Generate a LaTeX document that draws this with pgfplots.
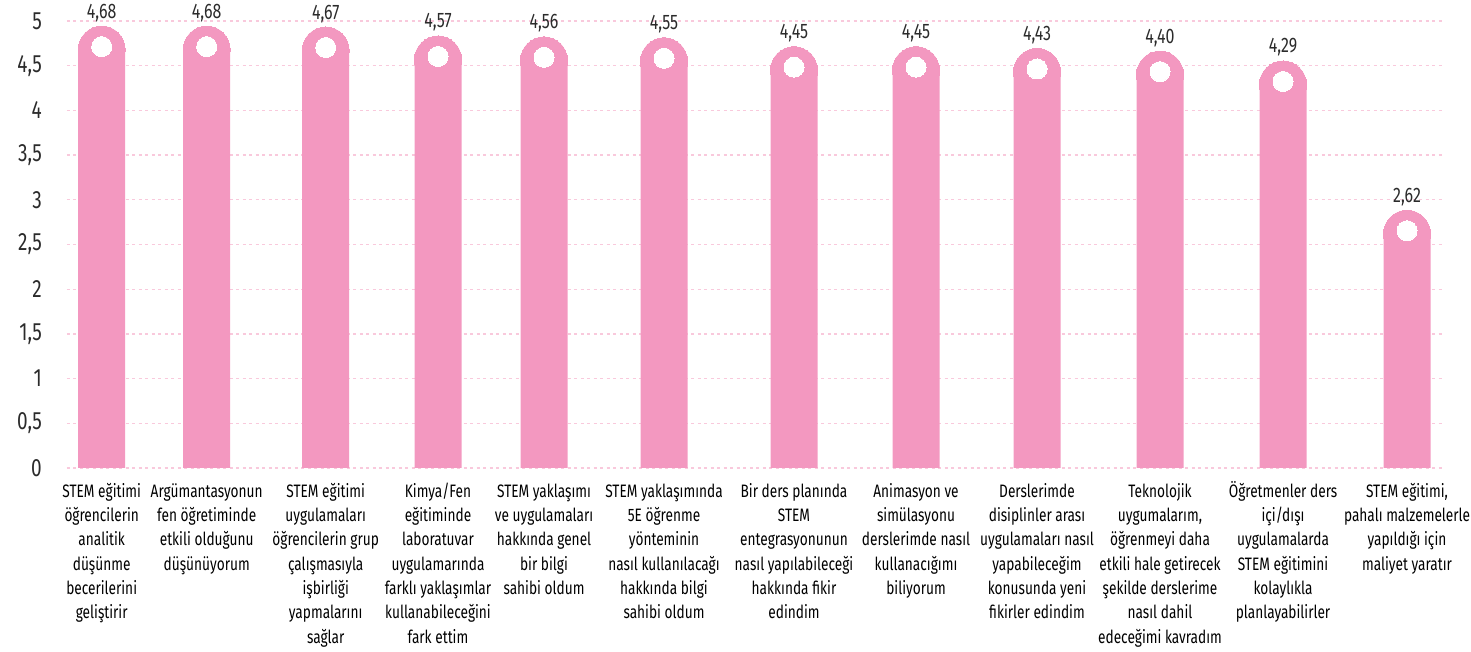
\documentclass[border=0pt]{standalone}
\usepackage{fontspec}
\setmainfont{Fira Sans}[FakeStretch=0.76]
\usepackage{pgfplots}
\usepackage{pgfplotstable}
\pgfplotsset{compat=1.18}
\definecolor{barpink}{HTML}{F398C0}
\definecolor{gridpink}{HTML}{F9C9DC}
\definecolor{txt}{HTML}{2B2B2B}
% x = horizontal position of each bar (as in the reference layout), y = mean score
\pgfplotstableread{
x y
101.7 4.68
206.7 4.68
325.7 4.67
438 4.57
544 4.56
664 4.55
794 4.45
916 4.45
1037 4.43
1160 4.40
1283 4.29
1407 2.62
}\datatable
\begin{document}
\begin{tikzpicture}
\begin{axis}[
  scale only axis, width=1378pt, height=447pt,
  xmin=67, xmax=1445, ymin=0, ymax=5,
  axis line style={draw=none}, tick style={draw=none},
  ytick={0,0.5,1,1.5,2,2.5,3,3.5,4,4.5,5},
  ymajorgrids,
  major grid style={gridpink, line width=1.3pt, dash pattern=on 3pt off 3.5pt},
  xtick=data,
  xticklabels={
    {\strut STEM eğitimi\\öğrencilerin\\analitik\\düşünme\\becerilerini\\geliştirir},
    {\strut Argümantasyonun\\fen öğretiminde\\etkili olduğunu\\düşünüyorum},
    {\strut STEM eğitimi\\uygulamaları\\öğrencilerin grup\\çalışmasıyla\\işbirliği\\yapmalarını\\sağlar},
    {\strut Kimya/Fen\\eğitiminde\\laboratuvar\\uygulamarında\\farklı yaklaşımlar\\kullanabileceğini\\fark ettim},
    {\strut STEM yaklaşımı\\ve uygulamaları\\hakkında genel\\bir bilgi\\sahibi oldum},
    {\strut STEM yaklaşımında\\5E öğrenme\\yönteminin\\nasıl kullanılacağı\\hakkında bilgi\\sahibi oldum},
    {\strut Bir ders planında\\STEM\\entegrasyonunun\\nasıl yapılabileceği\\hakkında fikir\\edindim},
    {\strut Animasyon ve\\simülasyonu\\derslerimde nasıl\\kullanacığımı\\biliyorum},
    {\strut Derslerimde\\disiplinler arası\\uygulamaları nasıl\\yapabileceğim\\konusunda yeni\\fikirler edindim},
    {\strut Teknolojik\\uygumalarım,\\öğrenmeyi daha\\etkili hale getirecek\\şekilde derslerime\\nasıl dahil\\edeceğimi kavradım},
    {\strut Öğretmenler ders\\içi/dışı\\uygulamalarda\\STEM eğitimini\\kolaylıkla\\planlayabilirler},
    {\strut STEM eğitimi,\\pahalı malzemelerle\\yapıldığı için\\maliyet yaratır}
  },
  xticklabel style={font=\fontsize{18}{24.3}\selectfont, align=center, anchor=north, inner sep=0pt, yshift=-12pt, text=black},
  yticklabel style={font=\fontsize{25}{30}\selectfont, anchor=east, inner sep=0pt, xshift=-25pt, text=txt,
    /pgf/number format/.cd, use comma, assume math mode=true},
  clip=false,
]
\addplot[ybar, bar width=47pt, bar shift=0pt, fill=barpink, draw=none] table[x=x, y=y] {\datatable};
\addplot[only marks, color=barpink, mark=*, mark size=23.5pt, mark options={fill=barpink, draw=barpink, line width=0pt}] table[x=x, y=y] {\datatable};
\addplot[only marks, color=white, mark=*, mark size=10pt, mark options={fill=white, draw=white, line width=0pt, yshift=3pt},
  nodes near coords={\pgfmathprintnumber[fixed, fixed zerofill, precision=2, use comma, assume math mode=true]{\pgfplotspointmeta}},
  every node near coord/.append style={anchor=south, yshift=25pt, inner sep=0pt, font=\fontsize{21}{24}\selectfont, text=txt}
] table[x=x, y=y] {\datatable};
\end{axis}
\pgfresetboundingbox
\path (current axis.south west) ++(-67pt,-184pt) rectangle ++(1471pt,652pt);
\end{tikzpicture}
\end{document}
